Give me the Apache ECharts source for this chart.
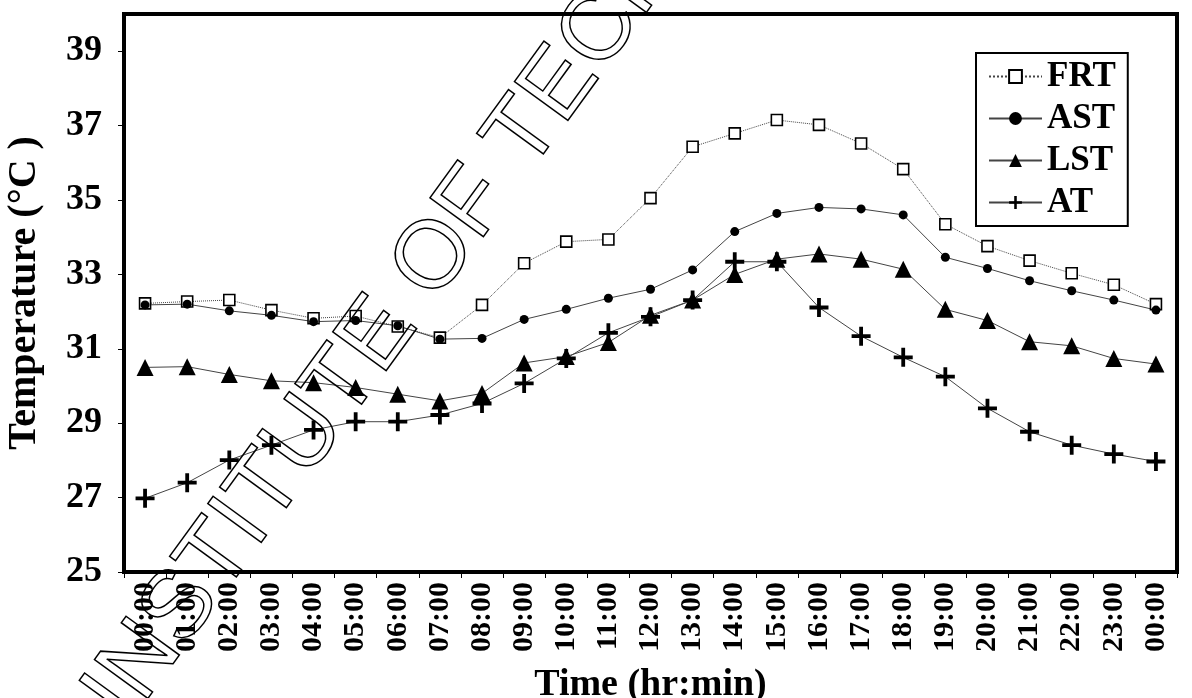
<!DOCTYPE html>
<html>
<head>
<meta charset="utf-8">
<script src="https://cdn.jsdelivr.net/npm/echarts@6/dist/echarts.min.js"></script>
<style>
  html, body { margin: 0; padding: 0; background: #fff; }
  #chart { width: 1192px; height: 698px; }
</style>
</head>
<body>
<div id="chart"></div>
<script>
// hourly readings, 00:00 to 00:00 next day
const times = ['00:00', '01:00', '02:00', '03:00', '04:00', '05:00', '06:00', '07:00', '08:00',
  '09:00', '10:00', '11:00', '12:00', '13:00', '14:00', '15:00', '16:00', '17:00', '18:00',
  '19:00', '20:00', '21:00', '22:00', '23:00', '00:00'];
const frt = [32.22, 32.27, 32.31, 32.04, 31.82, 31.88, 31.6, 31.3, 32.18, 33.3, 33.88, 33.94, 35.05,
  36.43, 36.79, 37.15, 37.02, 36.52, 35.83, 34.35, 33.76, 33.37, 33.03, 32.72, 32.2];
const ast = [32.18, 32.2, 32.02, 31.9, 31.73, 31.76, 31.62, 31.26, 31.28, 31.79, 32.06, 32.36, 32.6,
  33.12, 34.15, 34.64, 34.8, 34.76, 34.6, 33.46, 33.16, 32.83, 32.56, 32.31, 32.04];
const lst = [30.5, 30.52, 30.31, 30.14, 30.09, 29.96, 29.78, 29.6, 29.8, 30.62, 30.79, 31.17, 31.9,
  32.31, 33.0, 33.41, 33.55, 33.41, 33.14, 32.06, 31.76, 31.19, 31.08, 30.74, 30.59];
const at = [26.98, 27.4, 28.01, 28.41, 28.82, 29.04, 29.04, 29.22, 29.53, 30.07, 30.74, 31.43, 31.86,
  32.31, 33.34, 33.34, 32.11, 31.34, 30.77, 30.25, 29.4, 28.77, 28.41, 28.17, 27.97];
const yTicks = [25, 27, 29, 31, 33, 35, 37, 39];

const serif = 'Liberation Serif';
const plusPath = 'path://M4,0 H6 V4 H10 V6 H6 V10 H4 V6 H0 V4 H4 Z';

const myChart = echarts.init(document.getElementById('chart'));

function lineSeries(name, data, symbol, size, extra) {
  return Object.assign({
    name: name,
    type: 'line',
    data: data,
    symbol: symbol,
    symbolSize: size,
    showAllSymbol: true,
    lineStyle: { color: '#444', width: 1 },
    itemStyle: { color: '#000' },
    animation: false
  }, extra || {});
}

const option = {
  backgroundColor: '#fff',
  grid: {
    left: 124, right: 15, top: 14, bottom: 126,
    outerBoundsMode: 'none',
    containLabel: false,
    show: true,
    borderColor: '#000',
    borderWidth: 4
  },
  legend: {
    orient: 'vertical',
    left: 976,
    top: 53,
    padding: [6, 12, 6, 12],
    borderColor: '#000',
    borderWidth: 2,
    backgroundColor: '#fff',
    itemWidth: 53,
    itemHeight: 16,
    itemGap: 7,
    textStyle: { fontFamily: serif, fontWeight: 'bold', fontSize: 35, color: '#000' },
    data: ['FRT', 'AST', 'LST', 'AT']
  },
  xAxis: {
    type: 'category',
    data: times,
    boundaryGap: true,
    name: 'Time (hr:min)',
    nameLocation: 'middle',
    nameGap: 94,
    nameTextStyle: { fontFamily: serif, fontWeight: 'bold', fontSize: 38, color: '#000' },
    axisLine: { lineStyle: { color: '#000', width: 2 } },
    axisTick: { show: true, length: 6, lineStyle: { color: '#000' } },
    axisLabel: {
      rotate: 90, interval: 0, margin: 10,
      fontFamily: serif, fontWeight: 'bold', fontSize: 30, color: '#000'
    },
    splitLine: { show: false }
  },
  yAxis: {
    type: 'value',
    min: 25,
    max: 40,
    name: 'Temperature (°C )',
    nameLocation: 'middle',
    nameGap: 79,
    nameTextStyle: { fontFamily: serif, fontWeight: 'bold', fontSize: 40, color: '#000' },
    axisLine: { show: true, lineStyle: { color: '#000', width: 2 } },
    axisTick: { show: true, length: 6, customValues: yTicks, lineStyle: { color: '#000' } },
    axisLabel: {
      customValues: yTicks, margin: 22,
      fontFamily: serif, fontWeight: 'bold', fontSize: 36, color: '#000'
    },
    splitLine: { show: false }
  },
  series: [
    lineSeries('FRT', frt, 'rect', 11, {
      lineStyle: { color: '#444', width: 1, type: 'dotted' },
      itemStyle: { color: '#fff', borderColor: '#000', borderWidth: 1.6 }
    }),
    lineSeries('LST', lst, 'triangle', 17),
    lineSeries('AT', at, plusPath, 19),
    lineSeries('AST', ast, 'circle', 9)
  ],
  // scanned watermark across the plot
  graphic: [{
    type: 'text',
    x: 145,
    y: 739,
    rotation: 54 * Math.PI / 180,
    silent: true,
    z: 100,
    style: {
      text: 'INSTITUTE OF TECHNOLOGY',
      font: 'normal 96px "Liberation Sans"',
      fill: 'rgba(0,0,0,0)',
      stroke: '#000',
      lineWidth: 1.5,
      textVerticalAlign: 'bottom'
    }
  }]
};

myChart.setOption(option);
</script>
</body>
</html>
